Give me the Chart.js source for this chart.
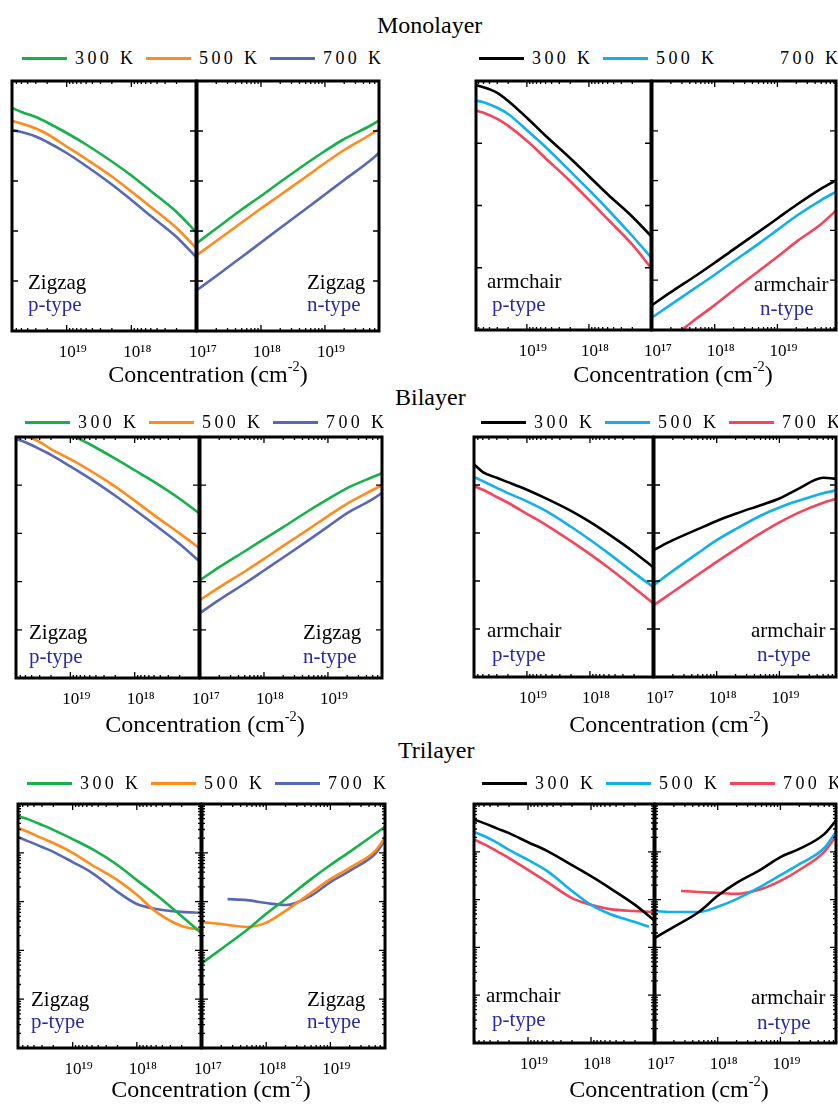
<!DOCTYPE html>
<html><head><meta charset="utf-8">
<script src="https://cdn.jsdelivr.net/npm/chart.js@4.4.1/dist/chart.umd.min.js"></script>
<style>
html,body{margin:0;padding:0;background:#fff;}
#root{position:relative;width:838px;height:1104px;overflow:hidden;font-family:"Liberation Serif",Tinos,"Times New Roman",serif;}
canvas{position:absolute;}
.t{position:absolute;white-space:nowrap;line-height:1;font-family:"Liberation Serif",Tinos,"Times New Roman",serif;}
.t sup{font-size:60%;line-height:0;vertical-align:0.75em;}
.lgline{position:absolute;height:3px;width:45px;}
</style></head><body><div id="root"></div>
<script>
// ---------- data ----------
const tempLabels = ['300 K', '500 K', '700 K'];
const tickValues = [1e17, 1e18, 1e19];
const tickLabels = ['10¹⁷', '10¹⁸', '10¹⁹'];

const concP  = [7e19, 5e19, 3e19, 2e19, 1e19, 5e18, 2e18, 1e18, 5e17, 2e17, 1e17];
const concN  = [1e17, 2e17, 5e17, 1e18, 2e18, 5e18, 1e19, 2e19, 5e19, 7e19];
const concN9 = [1e17, 2e17, 5e17, 1e18, 2e18, 5e18, 1e19, 2e19, 5e19, 9e19];

// Monolayer, zigzag
const mzP300 = [4.46, 4.38, 4.28, 4.17, 3.96, 3.73, 3.39, 3.11, 2.80, 2.38, 1.98];
const mzP500 = [4.20, 4.15, 4.05, 3.94, 3.69, 3.44, 3.09, 2.79, 2.48, 2.06, 1.66];
const mzP700 = [4.02, 3.98, 3.89, 3.78, 3.56, 3.30, 2.93, 2.62, 2.30, 1.88, 1.48];
const mzN300 = [1.76, 2.05, 2.43, 2.70, 2.98, 3.34, 3.60, 3.84, 4.10, 4.21];
const mzN500 = [1.52, 1.80, 2.17, 2.45, 2.72, 3.08, 3.36, 3.62, 3.92, 4.04];
const mzN700 = [0.82, 1.10, 1.48, 1.77, 2.06, 2.44, 2.73, 3.02, 3.40, 3.56];
// Monolayer, armchair
const maP300 = [3.94, 3.90, 3.81, 3.68, 3.41, 3.12, 2.76, 2.47, 2.18, 1.82, 1.51];
const maP500 = [3.69, 3.66, 3.57, 3.47, 3.21, 2.94, 2.55, 2.25, 1.94, 1.51, 1.17];
const maP700 = [3.53, 3.49, 3.39, 3.28, 3.04, 2.76, 2.39, 2.09, 1.78, 1.37, 1.00];
const maN300 = [0.50, 0.76, 1.09, 1.35, 1.62, 1.97, 2.24, 2.51, 2.84, 3.02];
const maN500 = [0.25, 0.51, 0.85, 1.11, 1.38, 1.73, 2.01, 2.29, 2.61, 2.79];
const concMaN700 = [3e17, 5e17, 1e18, 2e18, 5e18, 1e19, 2e19, 5e19, 9e19];
const maN700 = [0.00, 0.22, 0.50, 0.80, 1.18, 1.47, 1.77, 2.13, 2.42];
// Bilayer, zigzag
const concBzP300 = [3e19, 2e19, 1e19, 5e18, 2e18, 1e18, 5e17, 2e17, 1e17];
const bzP300 = [5.40, 5.27, 5.05, 4.85, 4.55, 4.31, 4.07, 3.72, 3.42];
const bzP500 = [5.10, 5.03, 4.90, 4.75, 4.54, 4.31, 3.97, 3.68, 3.38, 3.00, 2.70];
const bzP700 = [4.96, 4.89, 4.75, 4.63, 4.39, 4.14, 3.78, 3.49, 3.19, 2.78, 2.43];
const bzN300 = [2.03, 2.30, 2.63, 2.88, 3.13, 3.47, 3.71, 3.94, 4.17, 4.25];
const bzN500 = [1.62, 1.88, 2.21, 2.47, 2.74, 3.09, 3.36, 3.62, 3.90, 4.00];
const bzN700 = [1.35, 1.62, 1.96, 2.23, 2.50, 2.86, 3.14, 3.42, 3.71, 3.84];
// Bilayer, armchair
const baP300 = [4.44, 4.27, 4.15, 4.06, 3.90, 3.72, 3.46, 3.23, 2.97, 2.60, 2.29];
const baP500 = [4.17, 4.08, 3.94, 3.83, 3.66, 3.46, 3.13, 2.86, 2.57, 2.17, 1.88];
const baP700 = [3.98, 3.90, 3.75, 3.63, 3.40, 3.17, 2.83, 2.56, 2.27, 1.86, 1.54];
const baN300 = [2.65, 2.85, 3.08, 3.25, 3.40, 3.58, 3.72, 3.92, 4.15, 4.12];
const baN500 = [1.92, 2.21, 2.58, 2.85, 3.08, 3.36, 3.53, 3.67, 3.83, 3.90];
const baN700 = [1.50, 1.77, 2.13, 2.40, 2.66, 2.99, 3.22, 3.42, 3.63, 3.73];
// Trilayer, zigzag
const tzP300 = [4.75, 4.69, 4.57, 4.47, 4.28, 4.08, 3.75, 3.44, 3.14, 2.70, 2.36];
const tzP500 = [4.51, 4.43, 4.30, 4.20, 4.00, 3.75, 3.44, 3.14, 2.79, 2.50, 2.42];
const tzP700 = [4.32, 4.24, 4.12, 4.02, 3.81, 3.59, 3.20, 2.95, 2.85, 2.79, 2.77];
const tzN300 = [1.74, 2.03, 2.42, 2.75, 3.05, 3.46, 3.75, 4.02, 4.39, 4.53];
const tzN500 = [2.58, 2.54, 2.48, 2.57, 2.81, 3.18, 3.46, 3.69, 4.04, 4.30];
const concTzN700 = [2.5e17, 5e17, 1e18, 2e18, 5e18, 1e19, 2e19, 5e19, 7e19];
const tzN700 = [3.05, 3.03, 2.97, 2.93, 3.12, 3.40, 3.63, 3.98, 4.24];
// Trilayer, armchair
const taP300 = [4.67, 4.60, 4.48, 4.39, 4.20, 4.02, 3.72, 3.49, 3.24, 2.89, 2.57];
const concTaP500 = [7e19, 5e19, 3e19, 2e19, 1e19, 5e18, 2e18, 1e18, 5e17, 2e17, 1.2e17];
const taP500 = [4.41, 4.33, 4.18, 4.04, 3.83, 3.60, 3.18, 2.89, 2.70, 2.53, 2.43];
const taP700 = [4.25, 4.16, 4.00, 3.87, 3.62, 3.37, 3.03, 2.89, 2.80, 2.76, 2.74];
const taN300 = [2.20, 2.43, 2.74, 3.08, 3.35, 3.64, 3.89, 4.06, 4.37, 4.77];
const taN500 = [2.76, 2.74, 2.74, 2.85, 3.01, 3.28, 3.51, 3.74, 4.08, 4.56];
const concTaN700 = [2.6e17, 5e17, 1e18, 2e18, 5e18, 1e19, 2e19, 5e19, 9e19];
const taN700 = [3.18, 3.16, 3.14, 3.12, 3.22, 3.39, 3.62, 4.00, 4.46];

// ---------- styles / layout ----------
const FONT = '"Liberation Serif", Tinos, "Times New Roman", serif';
const zigColors = ['#16b14a', '#ff8b1c', '#5868b6'];
const armColors = ['#000000', '#12b0ea', '#f3455b'];
const typeBlue = '#2a2aa6';

const halves = [
  {area:[12,81,196,331],  xMax:7e19,   reverse:true,  yMax:5, minor:false, colors:zigColors, series:[[concP,mzP300],[concP,mzP500],[concP,mzP700]]},
  {area:[196,81,379,331], xMax:7e19,   reverse:false, yMax:5, minor:false, colors:zigColors, series:[[concN,mzN300],[concN,mzN500],[concN,mzN700]]},
  {area:[476,81,651,330], xMax:6.6e19, reverse:true,  yMax:4, minor:false, colors:armColors, series:[[concP,maP300],[concP,maP500],[concP,maP700]]},
  {area:[651,81,836,330], xMax:8.6e19, reverse:false, yMax:5, minor:false, colors:armColors, series:[[concN9,maN300],[concN9,maN500],[concMaN700,maN700]]},
  {area:[16,437,199,678], xMax:7e19,   reverse:true,  yMax:5, minor:false, colors:zigColors, series:[[concBzP300,bzP300],[concP,bzP500],[concP,bzP700]]},
  {area:[199,437,382,678],xMax:7e19,   reverse:false, yMax:5, minor:false, colors:zigColors, series:[[concN,bzN300],[concN,bzN500],[concN,bzN700]]},
  {area:[474,437,653,677],xMax:6.9e19, reverse:true,  yMax:5, minor:false, colors:armColors, series:[[concP,baP300],[concP,baP500],[concP,baP700]]},
  {area:[653,437,836,677],xMax:8e19,   reverse:false, yMax:5, minor:false, colors:armColors, series:[[concN9,baN300],[concN9,baN500],[concN9,baN700]]},
  {area:[18,804,201,1048],xMax:7.1e19, reverse:true,  yMax:5, minor:true,  colors:zigColors, series:[[concP,tzP300],[concP,tzP500],[concP,tzP700]]},
  {area:[201,804,385,1048],xMax:7.1e19,reverse:false, yMax:5, minor:true,  colors:zigColors, series:[[concN,tzN300],[concN,tzN500],[concTzN700,tzN700]]},
  {area:[474,804,654,1043],xMax:7.2e19,reverse:true,  yMax:5, minor:true,  colors:armColors, series:[[concP,taP300],[concTaP500,taP500],[concP,taP700]]},
  {area:[654,804,836,1043],xMax:7.7e19,reverse:false, yMax:5, minor:true,  colors:armColors, series:[[concN9,taN300],[concN9,taN500],[concTaN700,taN700]]}
];

const root = document.getElementById('root');
Chart.defaults.font.family = FONT;

const frameTicks = {
  id: 'frameTicks',
  afterDatasetsDraw(chart, args, opts) {
    const {ctx, chartArea: a, scales: {x, y}} = chart;
    ctx.save();
    ctx.strokeStyle = '#000';
    ctx.lineWidth = 1.3;
    ctx.beginPath();
    for (let d = 17; d <= 19; d++) {
      for (let k = 1; k <= 9; k++) {
        const v = k * Math.pow(10, d);
        if (v > x.max) break;
        const px = x.getPixelForValue(v);
        const L = k === 1 ? 6 : 3;
        ctx.moveTo(px, a.bottom); ctx.lineTo(px, a.bottom - L);
        ctx.moveTo(px, a.top); ctx.lineTo(px, a.top + L);
      }
    }
    for (let i = y.min; i <= y.max; i++) {
      const py = y.getPixelForValue(i);
      ctx.moveTo(a.left, py); ctx.lineTo(a.left + 6, py);
      ctx.moveTo(a.right, py); ctx.lineTo(a.right - 6, py);
      if (opts.minor && i < y.max) {
        for (let k = 2; k <= 9; k++) {
          const q = y.getPixelForValue(i + Math.log10(k));
          ctx.moveTo(a.left, q); ctx.lineTo(a.left + 3, q);
          ctx.moveTo(a.right, q); ctx.lineTo(a.right - 3, q);
        }
      }
    }
    ctx.stroke();
    ctx.lineWidth = 3;
    ctx.strokeRect(a.left, a.top, a.right - a.left, a.bottom - a.top);
    ctx.restore();
  }
};

const PAD = {l: 24, r: 24, t: 8};
const AXH = 36;
function makeHalf(p) {
  const [L, T, R, B] = p.area;
  const w = R - L, h = B - T;
  const c = document.createElement('canvas');
  c.width = w + PAD.l + PAD.r;
  c.height = h + PAD.t + AXH;
  c.style.left = (L - PAD.l) + 'px';
  c.style.top = (T - PAD.t) + 'px';
  root.appendChild(c);
  const ticks = p.reverse ? tickValues.slice(1) : tickValues;
  new Chart(c, {
    type: 'line',
    data: {
      datasets: p.series.map((s, i) => ({
        label: tempLabels[i],
        data: s[0].map((cv, j) => ({x: cv, y: s[1][j]})),
        borderColor: p.colors[i],
        borderWidth: 2.6,
        pointRadius: 0,
        fill: false,
        cubicInterpolationMode: 'monotone',
        clip: 0
      }))
    },
    options: {
      responsive: false, animation: false, devicePixelRatio: 1, events: [],
      layout: {padding: {left: PAD.l, right: PAD.r, top: PAD.t, bottom: 0}},
      plugins: {legend: {display: false}, tooltip: {enabled: false}, frameTicks: {minor: p.minor}},
      scales: {
        x: {
          type: 'logarithmic', min: 1e17, max: p.xMax, reverse: p.reverse,
          grid: {display: false, drawTicks: false}, border: {display: false},
          afterBuildTicks: ax => { ax.ticks = ticks.map(v => ({value: v})); },
          afterFit: ax => { ax.height = AXH; },
          ticks: {
            autoSkip: false, maxRotation: 0, minRotation: 0, padding: 11, labelOffset: 6,
            color: '#000', font: {family: FONT, size: 17},
            callback: v => tickLabels[tickValues.indexOf(v)]
          }
        },
        y: {display: false, min: 0, max: p.yMax}
      }
    },
    plugins: [frameTicks]
  });
}

// ---------- text ----------
function txt(html, x, base, size, color, center, extra) {
  const d = document.createElement('div');
  d.className = 't';
  d.innerHTML = html;
  d.style.fontSize = size + 'px';
  d.style.color = color || '#000';
  d.style.left = x + 'px';
  d.style.top = (base - 0.8375 * size) + 'px';
  if (center) d.style.transform = 'translateX(-50%)';
  if (extra) Object.assign(d.style, extra);
  root.appendChild(d);
  return d;
}
halves.forEach(makeHalf);
const titles = [['Monolayer', 377, 33], ['Bilayer', 395, 405], ['Trilayer', 398, 758]];
titles.forEach(t => txt(t[0], t[1], t[2], 24));

const axisTitle = 'Concentration (cm<sup>-2</sup>)';
[[208,382],[673,382],[205,732],[669,732],[211,1097],[669,1097]].forEach(p => txt(axisTitle, p[0], p[1], 24, '#000', true));

const panelText = [
  ['Zigzag',28,290,0],['p-type',28,312,1],['Zigzag',307,290,0],['n-type',307,312,1],
  ['armchair',487,289,0],['p-type',492,312,1],['armchair',754,292,0],['n-type',760,316,1],
  ['Zigzag',29,640,0],['p-type',29,664,1],['Zigzag',303,640,0],['n-type',303,664,1],
  ['armchair',487,638,0],['p-type',492,662,1],['armchair',751,638,0],['n-type',757,662,1],
  ['Zigzag',31,1007,0],['p-type',31,1029,1],['Zigzag',307,1007,0],['n-type',307,1029,1],
  ['armchair',486,1003,0],['p-type',492,1027,1],['armchair',751,1005,0],['n-type',757,1030,1]
];
panelText.forEach(t => txt(t[0], t[1], t[2], 21, t[3] ? typeBlue : '#000'));

const legends = [
  {x:22, y:58, colors:zigColors, hide:[]},
  {x:479, y:58, colors:armColors, hide:[2]},
  {x:25, y:422, colors:zigColors, hide:[]},
  {x:481, y:422, colors:armColors, hide:[]},
  {x:27, y:783, colors:zigColors, hide:[]},
  {x:482, y:783, colors:armColors, hide:[]}
];
legends.forEach(lg => {
  tempLabels.forEach((lab, i) => {
    const lx = lg.x + i * 124;
    if (!lg.hide.includes(i)) {
      const ln = document.createElement('div');
      ln.className = 'lgline';
      ln.style.left = lx + 'px';
      ln.style.top = (lg.y - 1.5) + 'px';
      ln.style.background = lg.colors[i];
      root.appendChild(ln);
    }
    txt(lab, lx + 53, lg.y + 6, 18, '#000', false, {letterSpacing: '3.4px'});
  });
});
</script></body></html>
